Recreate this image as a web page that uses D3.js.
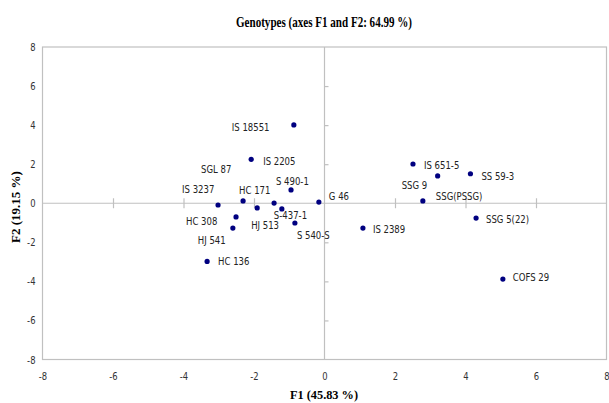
<!DOCTYPE html>
<html><head><meta charset="utf-8">
<script src="https://cdn.jsdelivr.net/npm/d3@7"></script>
<style>
body{margin:0;background:#fff;}
.lbl,.tick text{font-family:"Liberation Sans Narrow","DejaVu Sans Condensed","Liberation Sans",sans-serif;}
.ttl{font-family:"Liberation Serif","Times New Roman",serif;font-weight:bold;}
</style>
</head><body>
<script>
const names = ["IS 18551","IS 2205","SGL 87","IS 3237","HC 171","S 490-1","G 46","HC 308","HJ 513","S-437-1","HJ 541","S 540-S","HC 136","IS 651-5","SSG 9","SS 59-3","SSG(PSSG)","SSG 5(22)","IS 2389","COFS 29"];
const f1 = [-0.87,-2.08,-2.31,-3.02,-1.43,-0.95,-0.16,-2.51,-1.91,-1.21,-2.60,-0.84,-3.33,2.51,3.21,4.14,2.79,4.30,1.09,5.06];
const f2 = [4.01,2.25,0.12,-0.09,0.01,0.68,0.06,-0.70,-0.24,-0.29,-1.27,-1.01,-2.98,2.01,1.40,1.51,0.12,-0.76,-1.27,-3.88];
const tickValues = [-8,-6,-4,-2,0,2,4,6,8];
const title = "Genotypes (axes F1 and F2: 64.99 %)";
const xTitle = "F1 (45.83 %)";
const yTitle = "F2 (19.15 %)";

// label placement offsets (pixels) relative to each point
const labelOffsets = {
 "IS 18551":[-62,2],"IS 2205":[12,2],"SGL 87":[-42,-32],"IS 3237":[-36,-16],"HC 171":[-35,-13],
 "S 490-1":[-15,-9],"G 46":[10,-6],"HC 308":[-50,4],"HJ 513":[-6,17],"S-437-1":[-8,6],
 "HJ 541":[-35,12],"S 540-S":[2,12],"HC 136":[11,0],"IS 651-5":[11,1],"SSG 9":[-36,9],
 "SS 59-3":[11,2],"SSG(PSSG)":[13,-5],"SSG 5(22)":[10,1],"IS 2389":[10,1],"COFS 29":[10,-2]
};

const W=609,H=403;
const L=42.5,R=606.5,T=47,B=359.5;
const svg=d3.select("body").append("svg").attr("width",W).attr("height",H);
const x=d3.scaleLinear().domain([-8,8]).range([L,R]);
const y=d3.scaleLinear().domain([-8,8]).range([B,T]);
const grid="#c0c0c0";
const fmt=d=>String(d);

function squeeze(sel,f){sel.each(function(){const w=this.getComputedTextLength();d3.select(this).attr("textLength",w*f).attr("lengthAdjust","spacingAndGlyphs");});}

svg.append("rect").attr("x",L).attr("y",T).attr("width",R-L).attr("height",B-T)
  .attr("fill","none").attr("stroke",grid).attr("stroke-width",1.2);

const yAx=svg.append("g").attr("transform",`translate(${L},0)`)
  .call(d3.axisLeft(y).tickValues(tickValues).tickSize(0).tickPadding(7).tickFormat(fmt));
yAx.select(".domain").remove();
const xAx=svg.append("g").attr("transform",`translate(0,${B})`)
  .call(d3.axisBottom(x).tickValues(tickValues).tickSize(0).tickPadding(13).tickFormat(fmt));
xAx.select(".domain").remove();
xAx.selectAll(".tick text").filter(d=>d===8).attr("text-anchor","end").attr("x",2.5);
svg.selectAll(".tick text").attr("font-size",11).attr("fill","#333");
squeeze(svg.selectAll(".tick text"),0.85);

const zx=svg.append("g").attr("transform",`translate(0,${y(0)})`)
  .call(d3.axisBottom(x).tickValues(tickValues.filter(v=>v>-8&&v<8&&v!==0)).tickSize(5).tickFormat(""));
zx.selectAll("path,line").attr("stroke",grid).attr("stroke-width",1.2);
zx.selectAll(".tick line").attr("y1",-5);
const zy=svg.append("g").attr("transform",`translate(${x(0)},0)`)
  .call(d3.axisLeft(y).tickValues(tickValues.filter(v=>v>-8&&v<8&&v!==0)).tickSize(4).tickFormat(""));
zy.selectAll("path,line").attr("stroke",grid).attr("stroke-width",1.2);
zy.selectAll(".tick line").attr("x2",4);
zx.select(".domain").attr("d",`M${L},0H${R}`);
zy.select(".domain").attr("d",`M0,${T}V${B}`);

const data=names.map((n,i)=>({n,x:f1[i],y:f2[i]}));
svg.append("g").selectAll("circle").data(data).join("circle")
  .attr("cx",d=>x(d.x)).attr("cy",d=>y(d.y)).attr("r",2.6).attr("fill","#000080");
const lbls=svg.append("g").selectAll("text").data(data).join("text").attr("class","lbl")
  .attr("x",d=>x(d.x)+labelOffsets[d.n][0]).attr("y",d=>y(d.y)+labelOffsets[d.n][1])
  .attr("dy","0.35em").attr("font-size",11).attr("fill","#222").text(d=>d.n);
squeeze(lbls,0.86);

svg.append("text").attr("class","ttl").attr("x",324).attr("y",27).attr("text-anchor","middle")
  .attr("font-size",15).attr("textLength",176).attr("lengthAdjust","spacingAndGlyphs").text(title);
svg.append("text").attr("class","ttl").attr("x",324).attr("y",399).attr("text-anchor","middle")
  .attr("font-size",13).attr("textLength",68).attr("lengthAdjust","spacingAndGlyphs").text(xTitle);
svg.append("text").attr("class","ttl").attr("transform","translate(20,207) rotate(-90)").attr("text-anchor","middle")
  .attr("font-size",13).text(yTitle);
</script>
</body></html>
